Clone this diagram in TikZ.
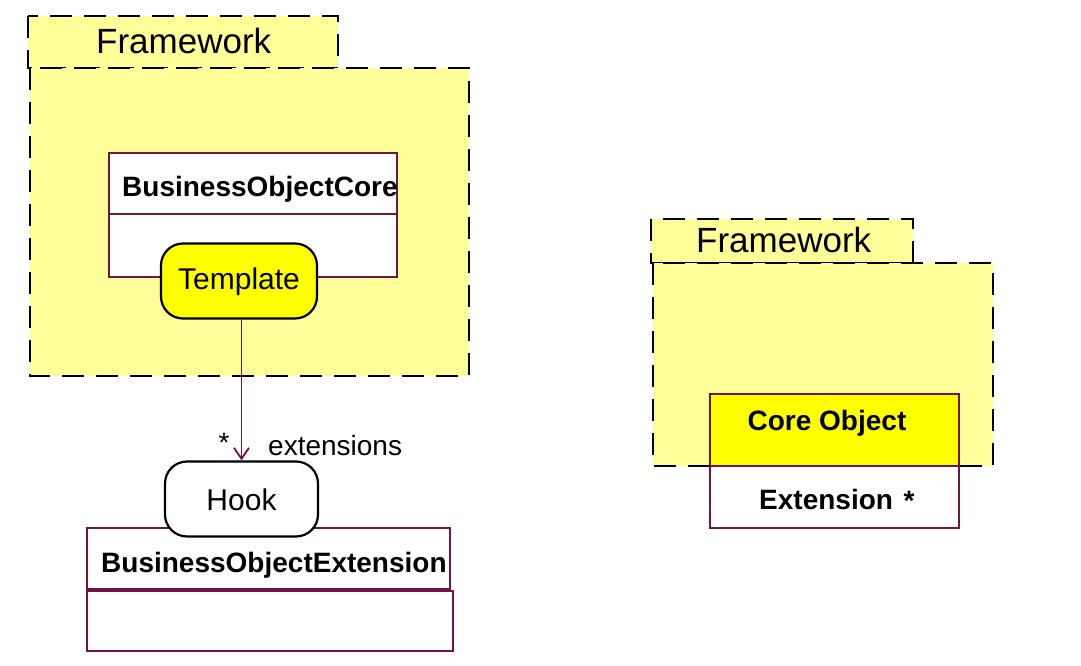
\documentclass[tikz,border=0pt]{standalone}
\usepackage{fontspec}
\setmainfont{Liberation Sans}
\usetikzlibrary{arrows.meta}
\definecolor{pkg}{RGB}{255,255,153}
\definecolor{maroon}{RGB}{110,20,70}
\definecolor{yel}{RGB}{255,255,0}
\tikzset{
  pkgline/.style={draw=black,line width=2.8pt,dash pattern=on 22pt off 12pt,fill=pkg},
  classbox/.style={draw=maroon,line width=1.8pt,fill=white,inner sep=0pt,anchor=north west},
  roundbox/.style={draw=black,line width=2.2pt,rounded corners=22pt,inner sep=0pt,minimum width=#1},
  boldtxt/.style={font=\fontsize{28}{30}\selectfont\bfseries,inner sep=0pt},
  plaintxt/.style={font=\fontsize{#1}{#1}\selectfont,inner sep=0pt},
  conn/.style={draw=maroon,line width=1.8pt,-{Straight Barb[length=11pt,width=15pt,line width=1.8pt]}}
}
\begin{document}
\begin{tikzpicture}[x=1pt,y=-1pt]
\useasboundingbox (0,0) rectangle (1081,666);
% ---- left package
\path[pkgline] (28,16) rectangle (338,68);
\path[pkgline] (30,68) rectangle (469,376);
\node[plaintxt=35,anchor=west] (fw1) at (96,41) {Framework};
% BusinessObjectCore
\node[classbox,minimum width=288pt,minimum height=61pt] (boc) at (108,152) {};
\node[classbox,minimum width=288pt,minimum height=63pt] (bocb) at (108,213) {};
\node[boldtxt,anchor=west] (boct) at (122,189) {BusinessObjectCore};
\node[roundbox=156pt,minimum height=75pt,fill=yel] (tmpl) at (239,281) {};
\node[plaintxt=30] (tmplt) at (239,282) {Template};
% Hook + extension
\node[classbox,minimum width=363pt,minimum height=61pt] (boe) at (86,527) {};
\node[classbox,minimum width=366pt,minimum height=60pt] (boeb) at (86,590) {};
\node[boldtxt,anchor=west] (boet) at (101,565) {BusinessObjectExtension};
\node[roundbox=153pt,minimum height=75pt,fill=white] (hook) at (241.5,499) {};
\node[plaintxt=30] (hookt) at (241.5,500) {Hook};
\draw[conn] (tmpl.south -| hook.north) -- (hook.north);
\node[plaintxt=28,anchor=west] (ext) at (268,445) {extensions};
\node[plaintxt=28] (star1) at (224,443) {*};
% ---- right package
\path[pkgline] (651,219) rectangle (913,263);
\path[pkgline] (653,263) rectangle (993,466);
\node[plaintxt=35,anchor=west] (fw2) at (696,240) {Framework};
\node[classbox,fill=yel,minimum width=249pt,minimum height=72pt] (core) at (709,393) {};
\node[boldtxt] (coret) at (827,423) {Core Object};
\node[classbox,minimum width=249pt,minimum height=62pt] (ext2) at (709,465) {};
\node[boldtxt,anchor=west] (ext2t) at (759,499) {Extension};
\node[boldtxt] (star2) at (909,501) {*};
\end{tikzpicture}
\end{document}
